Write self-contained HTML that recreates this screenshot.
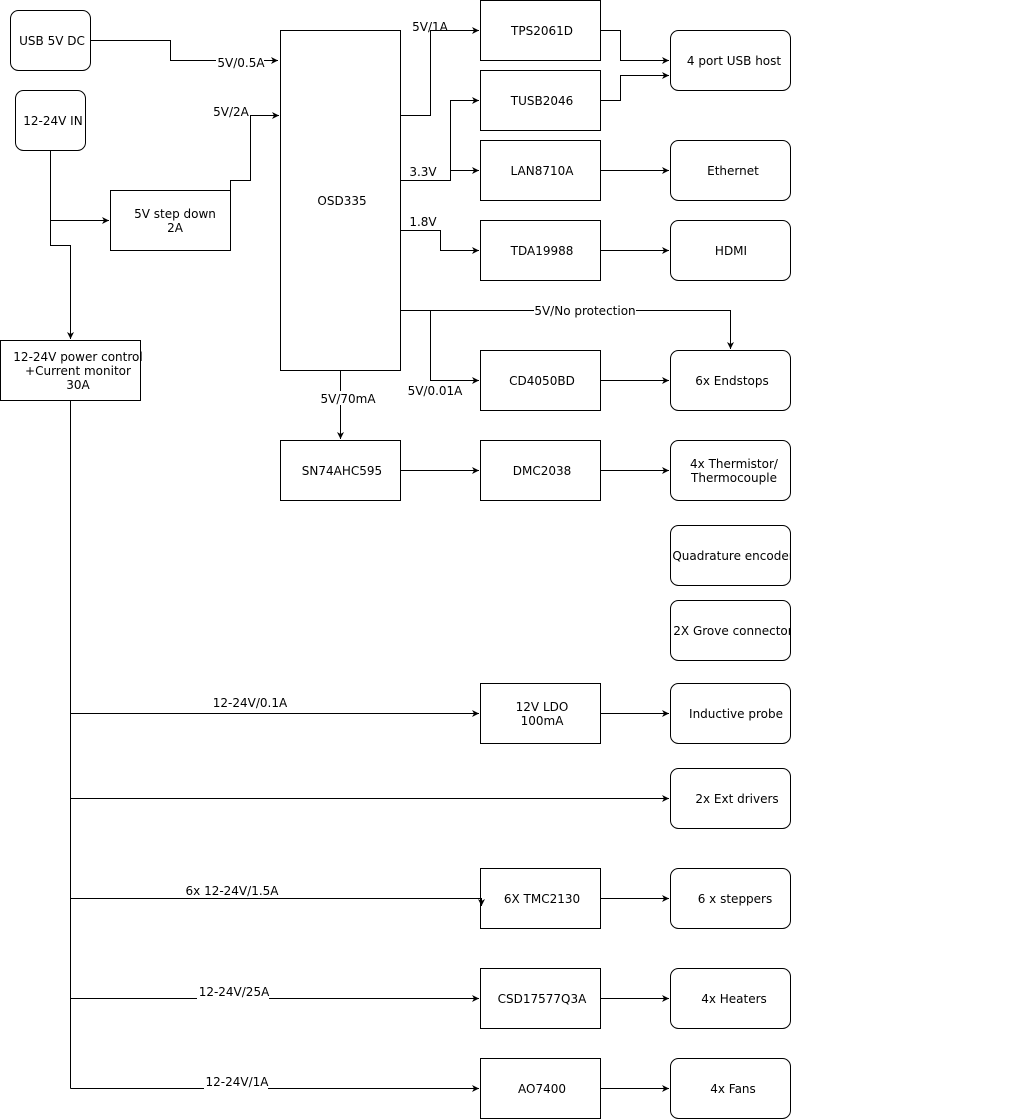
<!DOCTYPE html>
<html><head><meta charset="utf-8"><style>
html,body{margin:0;padding:0;background:#fff;}
svg{display:block;}
text{font-family:"DejaVu Sans","Liberation Sans",sans-serif;font-size:12px;fill:#000;}
</style></head><body>
<svg width="1024" height="1119" viewBox="0 0 1024 1119" xmlns="http://www.w3.org/2000/svg">
<defs><marker id="a" markerWidth="8" markerHeight="8" refX="7" refY="4" orient="auto" markerUnits="userSpaceOnUse"><path d="M0,0.5 L7,4 L0,7.5 L2,4 Z" fill="#000"/></marker>
<clipPath id="c1"><rect x="671" y="525" width="119" height="60"/></clipPath>
<clipPath id="c2"><rect x="671" y="600" width="119" height="60"/></clipPath>
</defs>
<g fill="#fff" stroke="#000" stroke-width="1">
<rect x="10.5" y="10.5" width="80" height="60" rx="8"/>
<rect x="15.5" y="90.5" width="70" height="60" rx="8"/>
<rect x="280.5" y="30.5" width="120" height="340"/>
<rect x="110.5" y="190.5" width="120" height="60"/>
<rect x="0.5" y="340.5" width="140" height="60"/>
<rect x="480.5" y="0.5" width="120" height="60"/>
<rect x="480.5" y="70.5" width="120" height="60"/>
<rect x="480.5" y="140.5" width="120" height="60"/>
<rect x="480.5" y="220.5" width="120" height="60"/>
<rect x="480.5" y="350.5" width="120" height="60"/>
<rect x="480.5" y="440.5" width="120" height="60"/>
<rect x="280.5" y="440.5" width="120" height="60"/>
<rect x="480.5" y="683.5" width="120" height="60"/>
<rect x="480.5" y="868.5" width="120" height="60"/>
<rect x="480.5" y="968.5" width="120" height="60"/>
<rect x="480.5" y="1058.5" width="120" height="60"/>
<rect x="670.5" y="30.5" width="120" height="60" rx="8"/>
<rect x="670.5" y="140.5" width="120" height="60" rx="8"/>
<rect x="670.5" y="220.5" width="120" height="60" rx="8"/>
<rect x="670.5" y="350.5" width="120" height="60" rx="8"/>
<rect x="670.5" y="440.5" width="120" height="60" rx="8"/>
<rect x="670.5" y="525.5" width="120" height="60" rx="8"/>
<rect x="670.5" y="600.5" width="120" height="60" rx="8"/>
<rect x="670.5" y="683.5" width="120" height="60" rx="8"/>
<rect x="670.5" y="768.5" width="120" height="60" rx="8"/>
<rect x="670.5" y="868.5" width="120" height="60" rx="8"/>
<rect x="670.5" y="968.5" width="120" height="60" rx="8"/>
<rect x="670.5" y="1058.5" width="120" height="60" rx="8"/>
</g>
<g fill="none" stroke="#000" stroke-width="1" marker-end="url(#a)">
<path d="M90.5,40.5 H170.5 V60.5 H278"/>
<path d="M50.5,150.5 V245.5 H70.5 V339"/>
<path d="M50.5,220.5 H109"/>
<path d="M230.5,190.5 V180.5 H250.5 V115.5 H279"/>
<path d="M400.5,115.5 H430.5 V30.5 H479"/>
<path d="M400.5,180.5 H450.5 V100.5 H479"/>
<path d="M450.5,170.5 H479"/>
<path d="M400.5,230.5 H440.5 V250.5 H479"/>
<path d="M400.5,310.5 H730.5 V349"/>
<path d="M430.5,310.5 V380.5 H479"/>
<path d="M340.5,370.5 V439"/>
<path d="M400.5,470.5 H479"/>
<path d="M600.5,470.5 H669"/>
<path d="M600.5,30.5 H620.5 V60.5 H669"/>
<path d="M600.5,100.5 H620.5 V75.5 H669"/>
<path d="M600.5,170.5 H669"/>
<path d="M600.5,250.5 H669"/>
<path d="M600.5,380.5 H669"/>
<path d="M600.5,713.5 H669"/>
<path d="M600.5,898.5 H669"/>
<path d="M600.5,998.5 H669"/>
<path d="M600.5,1088.5 H669"/>
<path d="M70.5,713.5 H479"/>
<path d="M70.5,798.5 H669"/>
<path d="M70.5,898.5 H481.5 V906"/>
<path d="M70.5,998.5 H479"/>
<path d="M70.5,1088.5 H479"/>
</g>
<path d="M70.5,400.5 V1088.5" stroke="#000" fill="none"/>
<g fill="#fff"><rect x="216" y="54" width="48" height="14"/><rect x="534" y="304" width="102" height="14"/><rect x="318" y="391" width="58" height="14"/><rect x="197" y="985" width="72" height="14"/><rect x="204" y="1075" width="64" height="14"/></g>
<g text-anchor="middle">
<text x="52" y="45">USB 5V DC</text>
<text x="53" y="125">12-24V IN</text>
<text x="342" y="205">OSD335</text>
<text x="175" y="218">5V step down</text>
<text x="175" y="232">2A</text>
<text x="78" y="361">12-24V power control</text>
<text x="78" y="375">+Current monitor</text>
<text x="78" y="389">30A</text>
<text x="542" y="35">TPS2061D</text>
<text x="542" y="105">TUSB2046</text>
<text x="542" y="175">LAN8710A</text>
<text x="542" y="255">TDA19988</text>
<text x="542" y="385">CD4050BD</text>
<text x="542" y="475">DMC2038</text>
<text x="342" y="475">SN74AHC595</text>
<text x="542" y="711">12V LDO</text>
<text x="542" y="725">100mA</text>
<text x="542" y="903">6X TMC2130</text>
<text x="542" y="1003">CSD17577Q3A</text>
<text x="542" y="1093">AO7400</text>
<text x="734" y="65">4 port USB host</text>
<text x="733" y="175">Ethernet</text>
<text x="731" y="255">HDMI</text>
<text x="732" y="385">6x Endstops</text>
<text x="734" y="468">4x Thermistor/</text>
<text x="734" y="482">Thermocouple</text>
<text x="733" y="560" clip-path="url(#c1)">Quadrature encoder</text>
<text x="733" y="635" clip-path="url(#c2)">2X Grove connector</text>
<text x="736" y="718">Inductive probe</text>
<text x="737" y="803">2x Ext drivers</text>
<text x="735" y="903">6 x steppers</text>
<text x="734" y="1003">4x Heaters</text>
<text x="733" y="1093">4x Fans</text>
<text x="241" y="67">5V/0.5A</text>
<text x="231" y="116">5V/2A</text>
<text x="430" y="31">5V/1A</text>
<text x="423" y="176">3.3V</text>
<text x="423" y="226">1.8V</text>
<text x="585" y="315">5V/No protection</text>
<text x="435" y="395">5V/0.01A</text>
<text x="348" y="403">5V/70mA</text>
<text x="250" y="707">12-24V/0.1A</text>
<text x="232" y="895">6x 12-24V/1.5A</text>
<text x="234" y="996">12-24V/25A</text>
<text x="237" y="1086">12-24V/1A</text>
</g>
</svg>
</body></html>
